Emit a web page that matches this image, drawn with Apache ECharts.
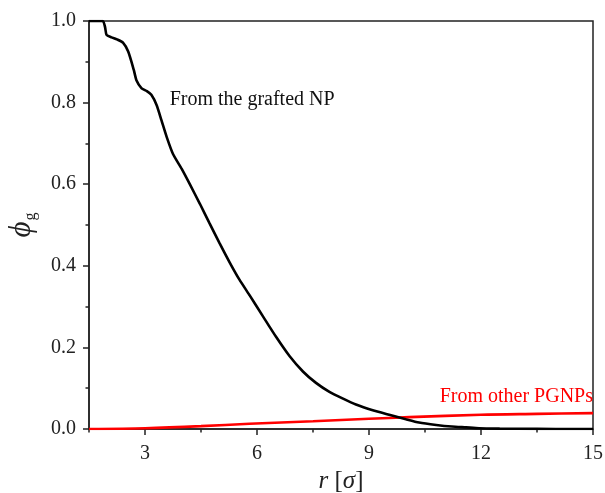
<!DOCTYPE html>
<html>
<head>
<meta charset="utf-8">
<script src="https://cdn.jsdelivr.net/npm/echarts@6/dist/echarts.min.js"></script>
<style>html,body{margin:0;padding:0;background:#fff}#c{width:605px;height:493px}</style>
</head>
<body>
<div id="c"></div>
<script>
// Data
var graftedR   = [1.5, 1.87, 1.93, 1.97, 2.1, 2.25, 2.41, 2.55, 2.7, 2.77, 2.91, 3.05, 3.17, 3.31, 3.44, 3.58, 3.75, 3.98, 4.2, 4.47, 4.73, 5.0, 5.27, 5.53, 5.8, 6.16, 6.51, 6.87, 7.23, 7.58, 7.94, 8.29, 8.65, 9.1, 9.54, 9.99, 10.34, 10.8, 11.22, 11.6, 11.95, 12.5, 13.0, 14.0, 15.0];
var graftedPhi = [1.0, 1.0, 0.985, 0.966, 0.960, 0.955, 0.947, 0.925, 0.880, 0.855, 0.835, 0.828, 0.819, 0.794, 0.757, 0.716, 0.674, 0.638, 0.600, 0.552, 0.504, 0.455, 0.408, 0.366, 0.328, 0.276, 0.226, 0.179, 0.141, 0.113, 0.091, 0.075, 0.060, 0.046, 0.035, 0.024, 0.016, 0.010, 0.006, 0.004, 0.002, 0.001, 0.0005, 0.0, 0.0];
var otherR     = [1.5, 3.0, 4.5, 5.8, 7.5, 9.0, 10.08, 12.0, 13.5, 15.0];
var otherPhi   = [0.0, 0.002, 0.007, 0.013, 0.019, 0.025, 0.029, 0.035, 0.037, 0.039];
var xMajorTicks = [3, 6, 9, 12, 15];
var xMinorTicks = [1.5, 4.5, 7.5, 10.5, 13.5];
var labelGrafted = {text: 'From the grafted NP', r: 3.66, phi: 0.806};
var labelOther   = {text: 'From other PGNPs', r: 15, phi: 0.039};

function pairs(xs, ys){ return xs.map(function(x,i){ return [x, ys[i]]; }); }

var FONT = '"Liberation Serif","Times New Roman",serif';
var chart = echarts.init(document.getElementById('c'), null, {renderer:'canvas'});
chart.setOption({
  backgroundColor: '#fff',
  animation: false,
  grid: {left: 89, right: 12, top: 21, bottom: 64, outerBoundsMode: 'none', containLabel: false, show: true, borderColor: '#222', borderWidth: 1.5, backgroundColor: 'transparent'},
  xAxis: [{
    type: 'value', min: 1.5, max: 15,
    name: '{i|r} [{i|σ}]', nameLocation: 'middle', nameGap: 38,
    nameTextStyle: {fontFamily: FONT, fontSize: 25, color: '#222', rich: {i: {fontFamily: FONT, fontSize: 25, fontStyle: 'italic', color: '#222'}}},
    axisLine: {show: true, onZero: false, lineStyle: {color: '#222', width: 1.5}},
    axisTick: {show: true, inside: false, length: 6, customValues: xMajorTicks, lineStyle: {color: '#222', width: 1.5}},
    axisLabel: {show: true, customValues: xMajorTicks, margin: 15, fontFamily: FONT, fontSize: 20, color: '#222'},
    splitLine: {show: false}
  }, {
    type: 'value', min: 1.5, max: 15, position: 'bottom', gridIndex: 0,
    axisLine: {show: false},
    axisTick: {show: true, inside: false, length: 3.5, customValues: xMinorTicks, lineStyle: {color: '#222', width: 1.5}},
    axisLabel: {show: false},
    splitLine: {show: false}
  }],
  yAxis: {
    type: 'value', min: 0, max: 1, interval: 0.2,
    name: '{p|ϕ}{s|g}', nameLocation: 'middle', nameGap: 50, nameRotate: 90,
    nameTextStyle: {fontFamily: FONT, color: '#222', rich: {
      p: {fontFamily: FONT, fontSize: 31, fontStyle: 'italic', color: '#222'},
      s: {fontFamily: FONT, fontSize: 16, color: '#222', padding: [18, 0, 0, 1]}
    }},
    axisLine: {show: true, lineStyle: {color: '#222', width: 1.5}},
    axisTick: {show: true, inside: false, length: 6, lineStyle: {color: '#222', width: 1.5}},
    minorTick: {show: true, splitNumber: 2, length: 3.5, lineStyle: {color: '#222', width: 1.5}},
    axisLabel: {margin: 13, fontFamily: FONT, fontSize: 20, color: '#222', formatter: function(v){ return v.toFixed(1); }},
    splitLine: {show: false}
  },
  series: [{
    type: 'line', name: 'grafted', data: pairs(graftedR, graftedPhi), smooth: 0.2, showSymbol: false, symbol: 'none',
    lineStyle: {color: '#000', width: 2.6}, z: 3,
    markPoint: {symbol: 'circle', symbolSize: 0, silent: true, data: [{coord: [labelGrafted.r, labelGrafted.phi], value: labelGrafted.text,
      label: {show: true, position: 'right', distance: 0, formatter: labelGrafted.text, fontFamily: FONT, fontSize: 20, color: '#111'}}]}
  }, {
    type: 'line', name: 'other', data: pairs(otherR, otherPhi), smooth: 0.3, showSymbol: false, symbol: 'none',
    lineStyle: {color: '#ff0000', width: 2.6}, z: 2,
    markPoint: {symbol: 'circle', symbolSize: 0, silent: true, data: [{coord: [labelOther.r, labelOther.phi], value: labelOther.text,
      label: {show: true, position: 'top', align: 'right', distance: 6, formatter: labelOther.text, fontFamily: FONT, fontSize: 20, color: '#ff0000'}}]}
  }]
});
</script>
</body>
</html>
